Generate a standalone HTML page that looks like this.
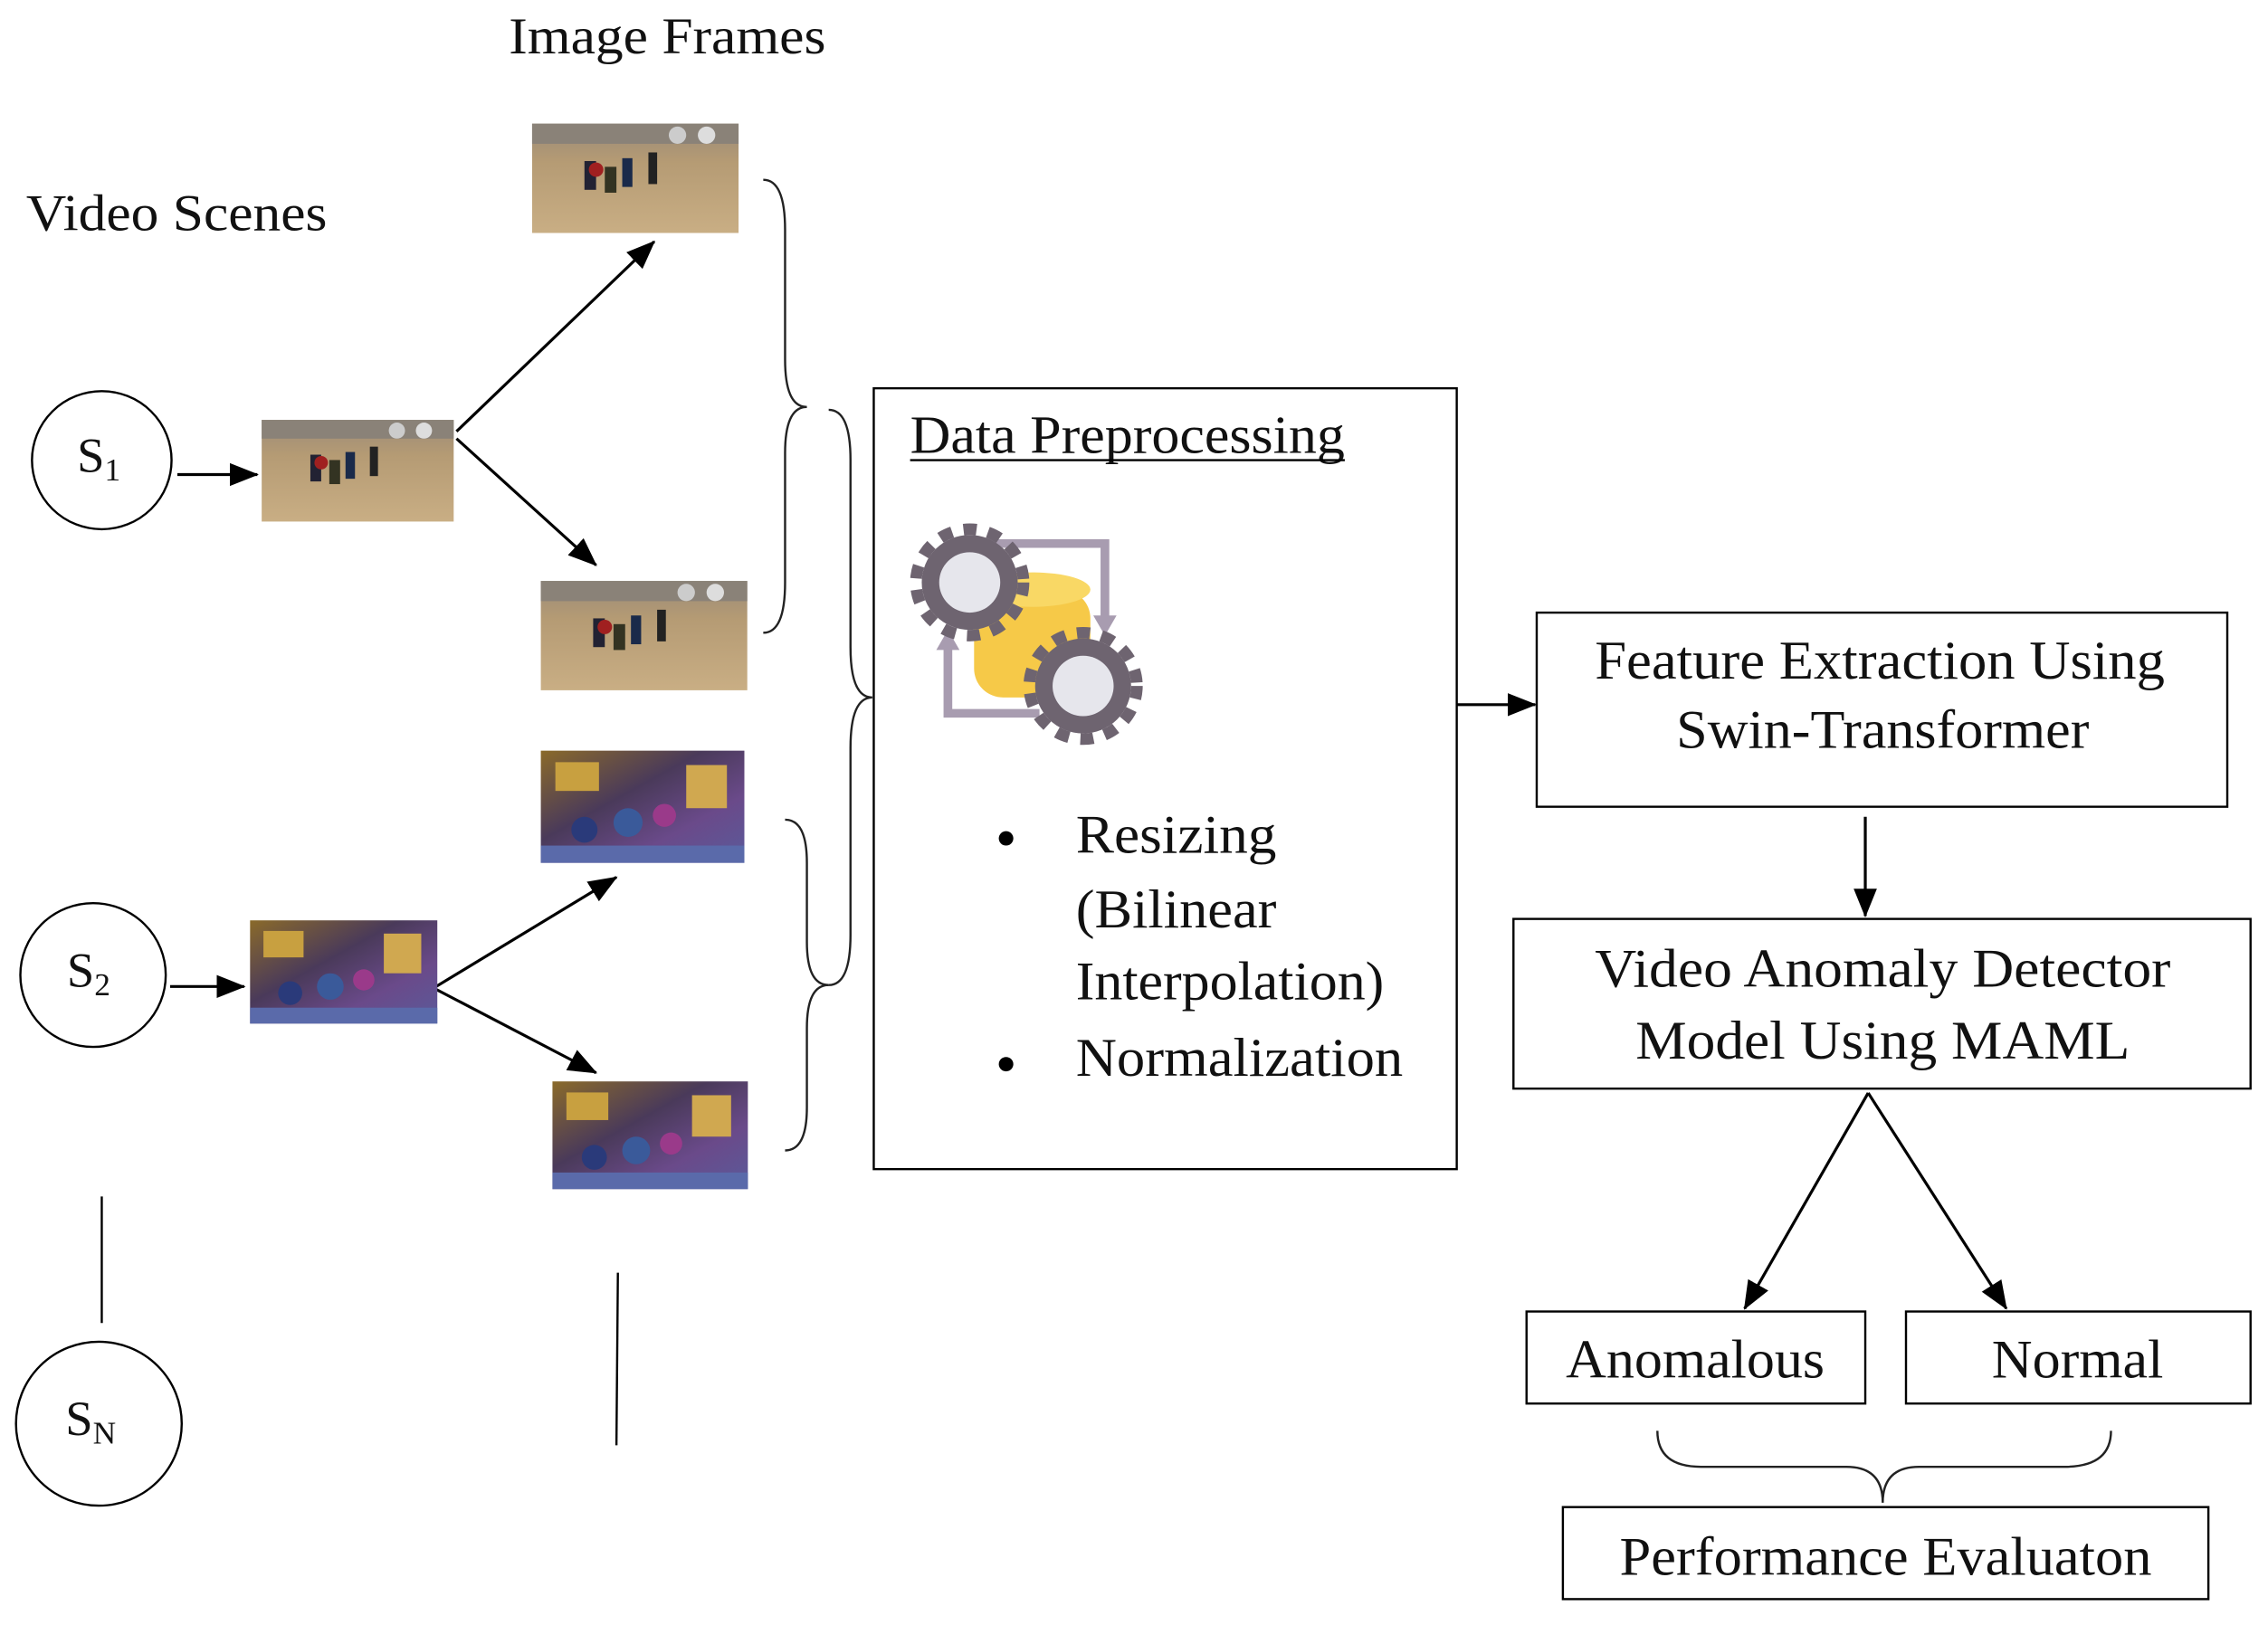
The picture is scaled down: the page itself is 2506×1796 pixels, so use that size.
<!DOCTYPE html>
<html><head><meta charset="utf-8"><style>html,body{margin:0;padding:0;background:#fff}svg{display:block}text{font-family:"Liberation Serif",serif;fill:#111}</style></head>
<body>
<svg width="2506" height="1796" viewBox="0 0 1560 1130" preserveAspectRatio="none" xmlns="http://www.w3.org/2000/svg">
<defs>
<marker id="ar2" markerWidth="20" markerHeight="16" refX="19" refY="8" orient="auto" markerUnits="userSpaceOnUse"><path d="M0,0 L20,8 L0,16 z" fill="#000"/></marker>
<linearGradient id="street" x1="0" y1="0" x2="0" y2="1"><stop offset="0" stop-color="#9a8a78"/><stop offset="0.35" stop-color="#b59b74"/><stop offset="1" stop-color="#c9ae84"/></linearGradient>
<linearGradient id="bar" x1="0" y1="0" x2="1" y2="1"><stop offset="0" stop-color="#8a6a2a"/><stop offset="0.4" stop-color="#4a3a5a"/><stop offset="0.7" stop-color="#6a4a8a"/><stop offset="1" stop-color="#5a5a9a"/></linearGradient>
<g id="s"><rect width="142" height="76" fill="url(#street)"/><rect width="142" height="14" fill="#8a8278"/><circle cx="120" cy="8" r="6" fill="#ddd"/><circle cx="100" cy="8" r="6" fill="#ccc"/><rect x="36" y="26" width="8" height="20" fill="#223"/><rect x="50" y="30" width="8" height="18" fill="#332"/><rect x="62" y="24" width="7" height="20" fill="#1a2a4a"/><rect x="80" y="20" width="6" height="22" fill="#222"/><circle cx="44" cy="32" r="5" fill="#a02020"/></g>
<g id="b"><rect width="140" height="78" fill="url(#bar)"/><rect x="10" y="8" width="30" height="20" fill="#c8a040"/><rect x="100" y="10" width="28" height="30" fill="#d0a850"/><circle cx="60" cy="50" r="10" fill="#3a5a9a"/><circle cx="85" cy="45" r="8" fill="#9a3a8a"/><circle cx="30" cy="55" r="9" fill="#2a3a7a"/><rect x="0" y="66" width="140" height="12" fill="#5a6aaa"/></g>
</defs>
<text x="350" y="37" font-size="36" textLength="218" lengthAdjust="spacingAndGlyphs">Image Frames</text>
<text x="18" y="160" font-size="36" textLength="207" lengthAdjust="spacingAndGlyphs">Video Scenes</text>
<g fill="none" stroke="#000" stroke-width="1.5">
<circle cx="70" cy="320" r="48"/><circle cx="64" cy="678" r="50"/><circle cx="68" cy="990" r="57"/>
<line x1="70" y1="832" x2="70" y2="920"/><line x1="425" y1="885" x2="424" y2="1005"/>
</g>
<text x="53" y="328" font-size="34">S<tspan font-size="22" dy="6">1</tspan></text>
<text x="46" y="686" font-size="34">S<tspan font-size="22" dy="6">2</tspan></text>
<text x="45" y="998" font-size="34">S<tspan font-size="22" dy="6">N</tspan></text>
<g stroke="#000" stroke-width="2" fill="none">
<line x1="122" y1="330" x2="177" y2="330" marker-end="url(#ar2)"/>
<line x1="117" y1="686" x2="168" y2="686" marker-end="url(#ar2)"/>
<line x1="314" y1="300" x2="450" y2="168" marker-end="url(#ar2)"/>
<line x1="314" y1="305" x2="410" y2="393" marker-end="url(#ar2)"/>
<line x1="300" y1="686" x2="424" y2="610" marker-end="url(#ar2)"/>
<line x1="300" y1="688" x2="410" y2="746" marker-end="url(#ar2)"/>
<line x1="1002" y1="490" x2="1056" y2="490" marker-end="url(#ar2)"/>
<line x1="1283" y1="568" x2="1283" y2="637" marker-end="url(#ar2)"/>
<line x1="1285" y1="760" x2="1200" y2="910" marker-end="url(#ar2)"/>
<line x1="1285" y1="760" x2="1380" y2="910" marker-end="url(#ar2)"/>
</g>
<use href="#s" transform="translate(180,292) scale(0.93,0.93)"/>
<use href="#s" transform="translate(366,86)"/>
<use href="#s" transform="translate(372,404)"/>
<use href="#b" transform="translate(372,522)"/>
<use href="#b" transform="translate(380,752) scale(0.96,0.96)"/>
<use href="#b" transform="translate(172,640) scale(0.92,0.92)"/>
<g fill="none" stroke="#222" stroke-width="1.5">
<path d="M525,125 Q540,125 540,160 L540,250 Q540,283 555,283 Q540,283 540,315 L540,405 Q540,440 525,440"/>
<path d="M540,570 Q555,570 555,600 L555,655 Q555,685 570,685"/>
<path d="M540,800 Q555,800 555,770 L555,715 Q555,685 570,685"/>
<path d="M570,285 Q585,285 585,320 L585,450 Q585,485 600,485 Q585,485 585,520 L585,650 Q585,685 570,685"/>
<path d="M1140,995 Q1140,1020 1170,1020 L1270,1020 Q1295,1020 1295,1045 Q1295,1020 1320,1020 L1420,1020 Q1452,1020 1452,995"/>
</g>
<g fill="none" stroke="#000" stroke-width="1.5">
<rect x="601" y="270" width="401" height="543"/>
<rect x="1057" y="426" width="475" height="135"/>
<rect x="1041" y="639" width="507" height="118"/>
<rect x="1050" y="912" width="233" height="64"/>
<rect x="1311" y="912" width="237" height="64"/>
<rect x="1075" y="1048" width="444" height="64"/>
</g>
<text x="626" y="315" font-size="37" textLength="299" lengthAdjust="spacingAndGlyphs">Data Preprocessing</text>
<line x1="626" y1="320" x2="925" y2="320" stroke="#000" stroke-width="1.5"/>
<g>
<path d="M660,378 L760,378 L760,432" fill="none" stroke="#a89cb0" stroke-width="6"/>
<path d="M752,428 L760,442 L768,428z" fill="#a89cb0"/>
<path d="M715,496 L652,496 L652,450" fill="none" stroke="#a89cb0" stroke-width="6"/>
<path d="M644,452 L652,438 L660,452z" fill="#a89cb0"/>
<rect x="670" y="410" width="80" height="75" rx="20" fill="#f6c948"/>
<ellipse cx="710" cy="410" rx="40" ry="12" fill="#f9d865"/>
<circle cx="667" cy="405" r="33" fill="#6e6470"/><circle cx="667" cy="405" r="37" fill="none" stroke="#6e6470" stroke-width="8" stroke-dasharray="9 8"/><circle cx="667" cy="405" r="21" fill="#e6e6ec"/>
<circle cx="745" cy="477" r="33" fill="#6e6470"/><circle cx="745" cy="477" r="37" fill="none" stroke="#6e6470" stroke-width="8" stroke-dasharray="9 8"/><circle cx="745" cy="477" r="21" fill="#e6e6ec"/>
</g>
<g font-size="38">
<circle cx="692" cy="583" r="5" fill="#000"/>
<text x="740" y="593" textLength="138" lengthAdjust="spacingAndGlyphs">Resizing</text>
<text x="740" y="645" textLength="138" lengthAdjust="spacingAndGlyphs">(Bilinear</text>
<text x="740" y="695" textLength="212" lengthAdjust="spacingAndGlyphs">Interpolation)</text>
<circle cx="692" cy="740" r="5" fill="#000"/>
<text x="740" y="748" textLength="225" lengthAdjust="spacingAndGlyphs">Normalization</text>
</g>
<g font-size="38" text-anchor="middle">
<text x="1293" y="472" textLength="392" lengthAdjust="spacingAndGlyphs">Feature Extraction Using</text>
<text x="1295" y="520" textLength="284" lengthAdjust="spacingAndGlyphs">Swin-Transformer</text>
<text x="1295" y="686" textLength="396" lengthAdjust="spacingAndGlyphs">Video Anomaly Detector</text>
<text x="1295" y="736" textLength="340" lengthAdjust="spacingAndGlyphs">Model Using MAML</text>
<text x="1166" y="958" textLength="178" lengthAdjust="spacingAndGlyphs">Anomalous</text>
<text x="1429" y="958" textLength="118" lengthAdjust="spacingAndGlyphs">Normal</text>
<text x="1297" y="1095" textLength="366" lengthAdjust="spacingAndGlyphs">Performance Evaluaton</text>
</g>
</svg>
</body></html>
